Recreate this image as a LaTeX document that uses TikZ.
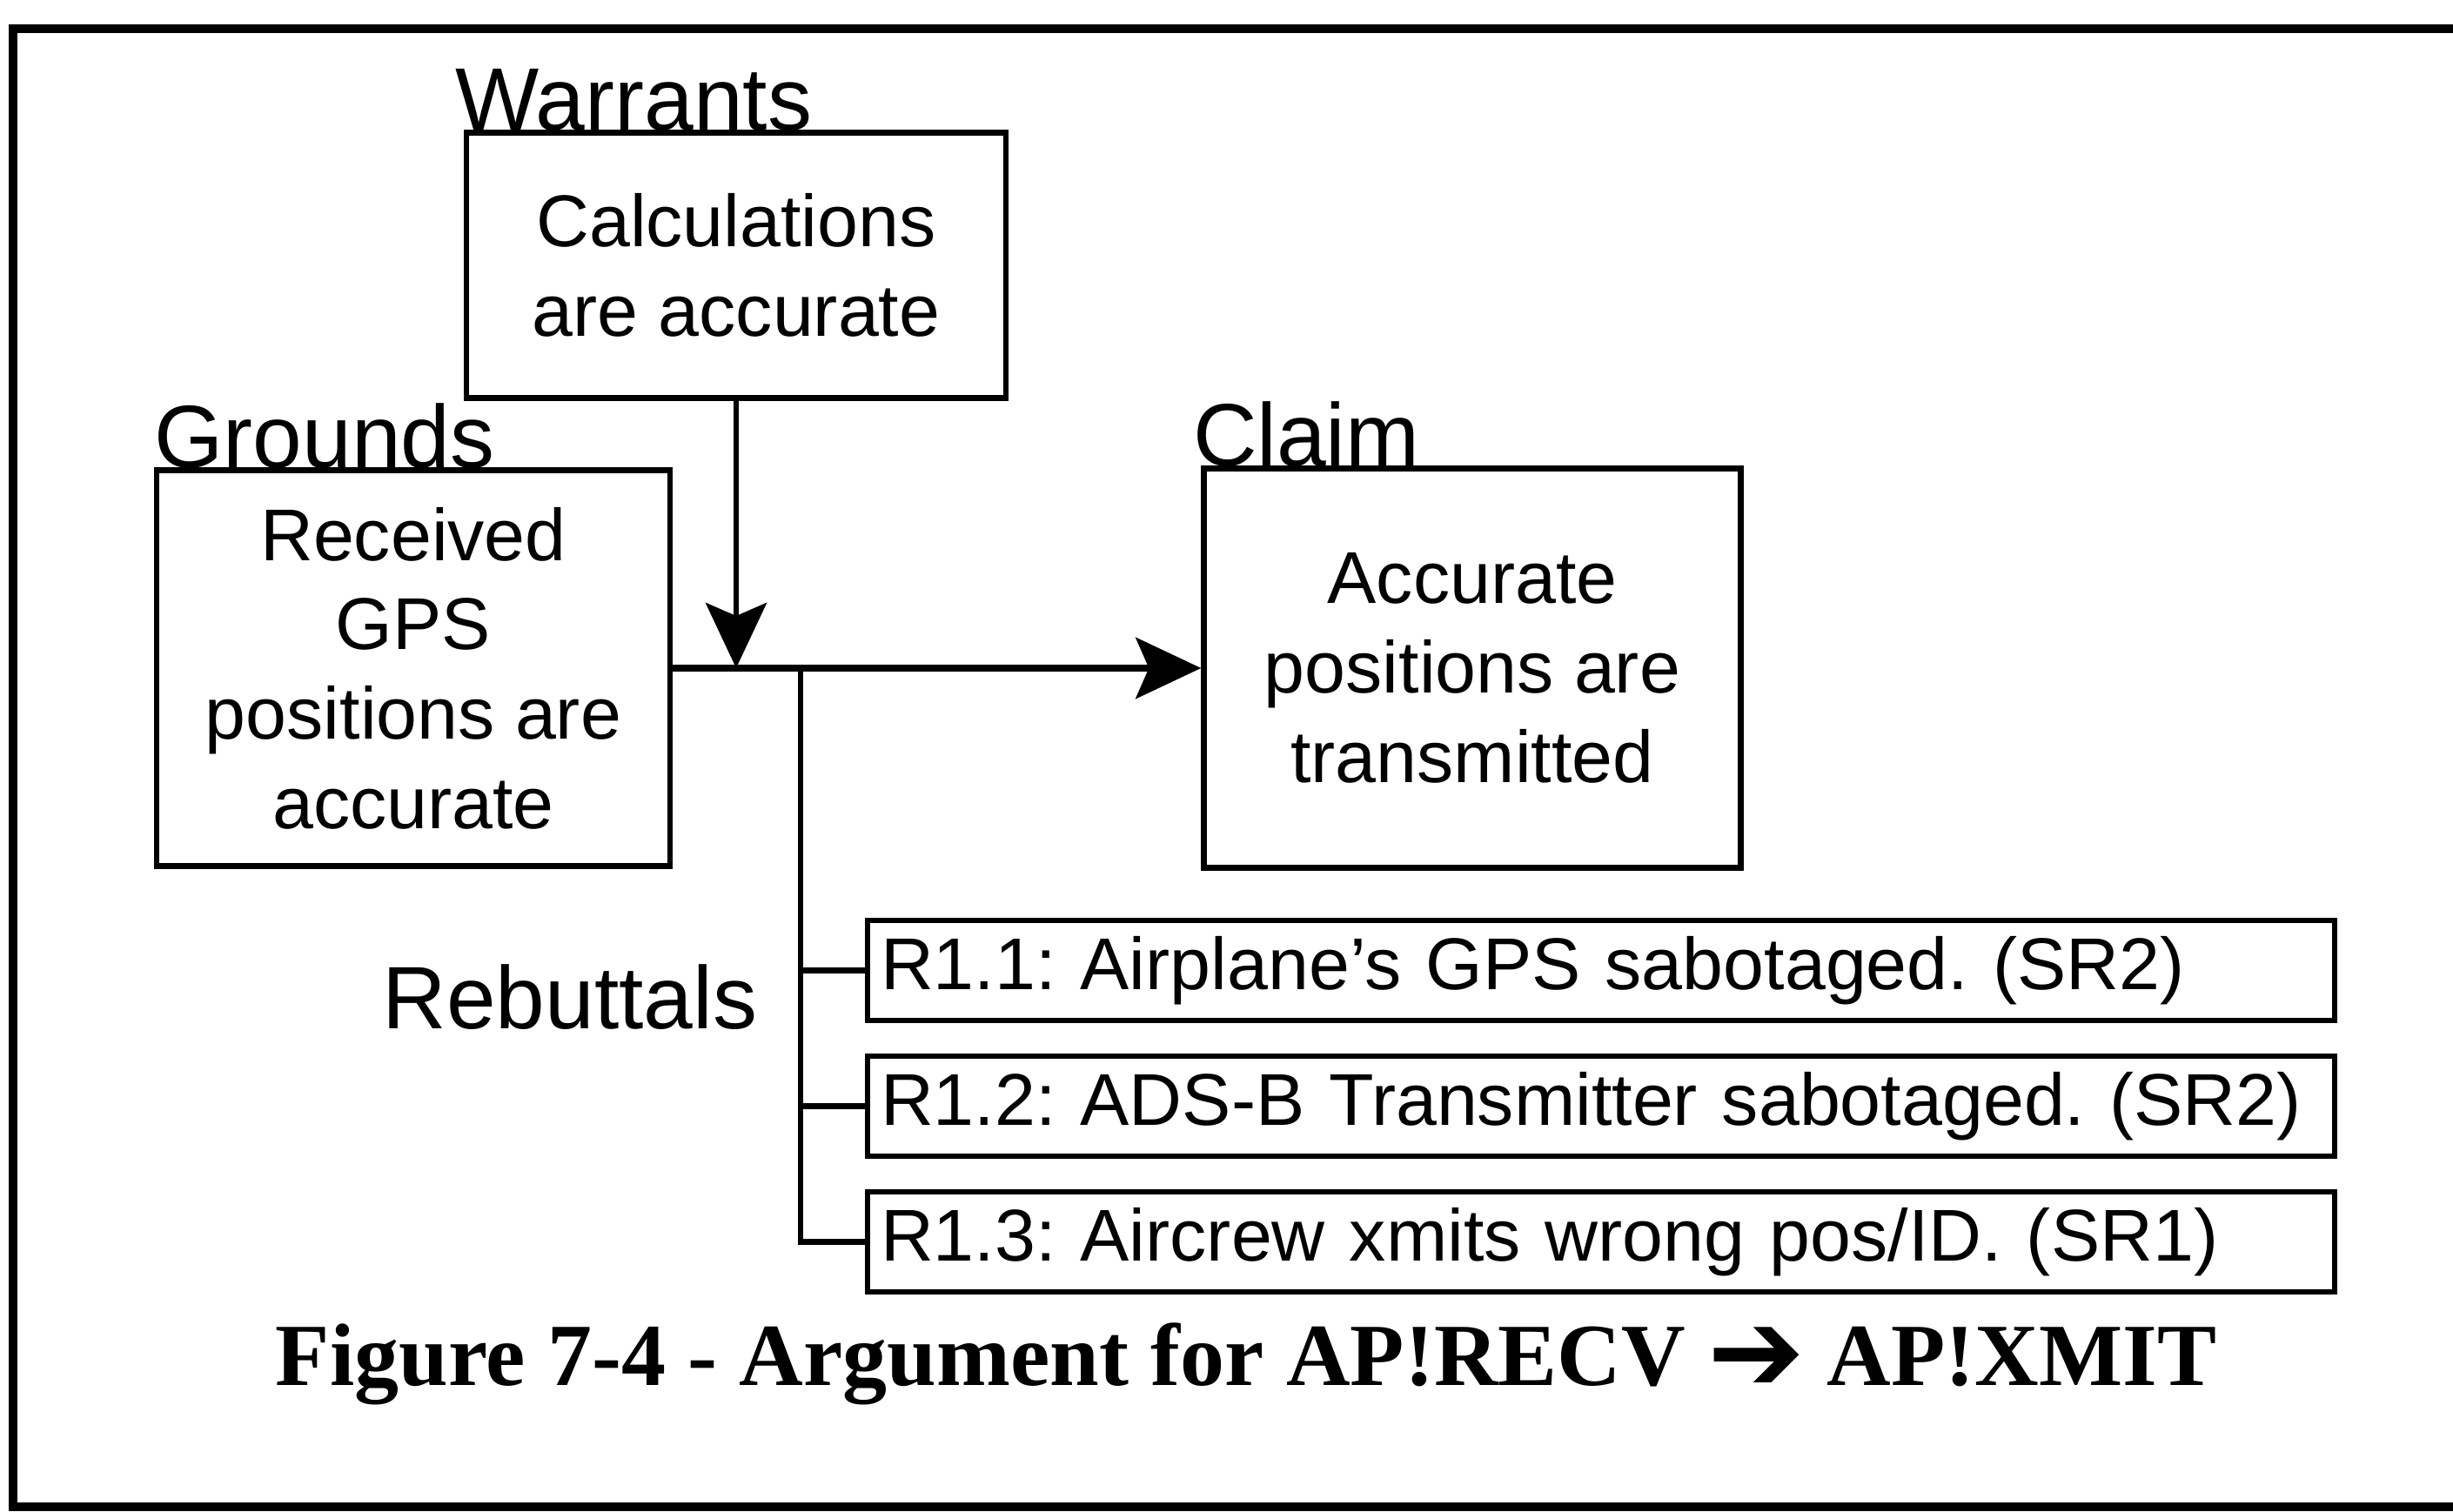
\documentclass[tikz,border=0pt]{standalone}
\usepackage{fontspec}
\setmainfont{Liberation Sans}
\newfontfamily\capfont{Liberation Serif}
\newfontfamily\arrowfont{DejaVu Sans}
\usetikzlibrary{arrows.meta}

\begin{document}
\begin{tikzpicture}[node distance = 1.56cm, auto]
  \tikzstyle{block} = [rectangle, draw, line width=1.8pt, align=center,
    font=\fontsize{24}{29.2}\selectfont, inner sep=0pt]
  \tikzstyle{rebut} = [rectangle, draw, line width=1.8pt, align=left,
    text width=16.56cm, inner xsep=0.15cm, minimum height=1.15cm,
    font=\frenchspacing\fontsize{24}{29.2}\selectfont]
  \tikzstyle{tag} = [inner sep=0pt, anchor=base west,
    font=\fontsize{29}{34}\selectfont]
  \tikzstyle{line} = [draw, line width=1.8pt,
    -{Stealth[length=7.5mm, width=7mm, inset=1.5mm]}]
  \tikzstyle{branch} = [draw, line width=1.8pt]

  \useasboundingbox (0,0) rectangle (28.19,17.38);
  % frame, cut off at the right
  \draw [line width=3pt] (28.19,17.05) -- (0.15,17.05) -- (0.15,0.06) -- (28.19,0.06);

  % Place nodes
  \node [block, minimum width=6.2cm, minimum height=3.05cm] (warrant) at (8.46,14.33)
    {Calculations\\are accurate};
  \node [block, minimum width=5.9cm, minimum height=4.55cm] (grounds) at (4.75,9.70)
    {Received\\GPS\\positions are\\accurate};
  \node [block, right of=grounds, node distance=12.17cm,
    minimum width=6.17cm, minimum height=4.59cm] (claim)
    {Accurate\\positions are\\transmitted};
  \node [rebut] (r11) at (18.40,6.225) {R1.1: Airplane’s GPS sabotaged. (SR2)};
  \node [rebut, below of=r11] (r12) {R1.2: ADS-B Transmitter sabotaged. (SR2)};
  \node [rebut, below of=r12] (r13) {R1.3: Aircrew xmits wrong pos/ID. (SR1)};

  % Labels
  \node [tag] (wtag) at ([xshift=-0.1cm]warrant.north west) {Warrants};
  \node [tag] (gtag) at (grounds.north west) {Grounds};
  \node [tag] (ctag) at ([xshift=-0.1cm]claim.north west) {Claim};
  \node [inner sep=0pt, anchor=base, font=\fontsize{29}{34}\selectfont] (rtag)
    at (6.55,5.55) {Rebuttals};
  \node [inner sep=0pt, anchor=base, font=\capfont\bfseries\fontsize{29}{34}\selectfont]
    (caption) at (14.32,1.45)
    {Figure 7-4 - Argument for AP!RECV
     \raisebox{-0.06em}{\arrowfont\fontsize{38}{38}\selectfont ➔} AP!XMIT};

  % Draw edges
  \coordinate (join) at (warrant.south |- grounds.east);
  \coordinate (fork) at (9.20,9.70);
  \path [line, line width=2.4pt] (grounds.east) -- (claim.west);
  \path [line] (warrant.south) -- (join);
  \path [branch] (fork) |- (r11.west);
  \path [branch] (fork) |- (r12.west);
  \path [branch] (fork) |- (r13.west);
\end{tikzpicture}
\end{document}
